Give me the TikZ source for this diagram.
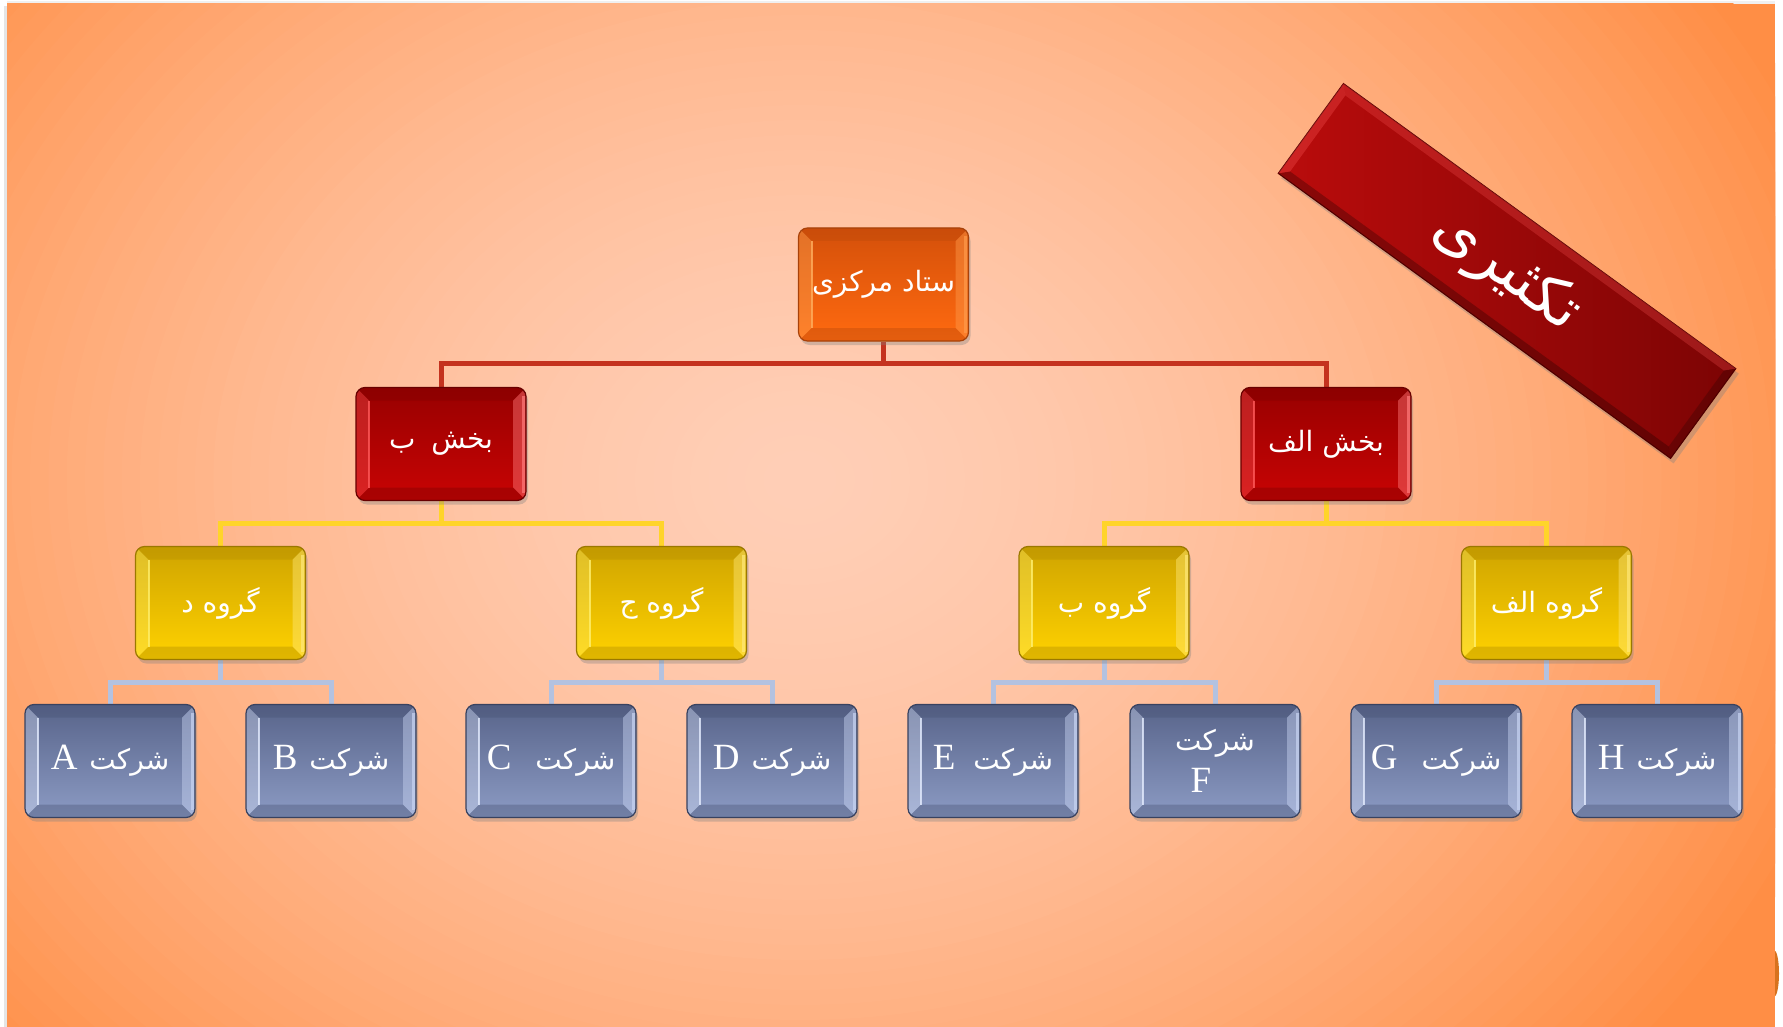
\documentclass[tikz,border=0pt]{standalone}
\usepackage{fontspec}
\setmainfont{Liberation Serif}
\newfontfamily\fa[Script=Arabic]{DejaVu Sans}
\TeXXeTstate=1
\usetikzlibrary{calc,shadows}
\definecolor{bgL}{HTML}{FFCEB6}
\definecolor{bgD}{HTML}{FF8E45}
\definecolor{lnred}{HTML}{C4321E}
\definecolor{lnyel}{HTML}{FFD42A}
\definecolor{lnblu}{HTML}{B4C2E0}
\definecolor{ornT}{HTML}{D4500A}
\definecolor{ornB}{HTML}{FF6A10}
\definecolor{ornE}{HTML}{A8420A}
\definecolor{ornL}{HTML}{FFB060}
\definecolor{ornR}{HTML}{FF9A4A}
\definecolor{redT}{HTML}{980000}
\definecolor{redB}{HTML}{C80404}
\definecolor{redE}{HTML}{680000}
\definecolor{redL}{HTML}{FF5A5A}
\definecolor{redR}{HTML}{FF7A7A}
\definecolor{yelT}{HTML}{CFA400}
\definecolor{yelB}{HTML}{FFD200}
\definecolor{yelE}{HTML}{9A7800}
\definecolor{yelL}{HTML}{FFF070}
\definecolor{yelR}{HTML}{FFE878}
\definecolor{bluT}{HTML}{58648A}
\definecolor{bluB}{HTML}{8C9BC4}
\definecolor{bluE}{HTML}{384260}
\definecolor{bluL}{HTML}{E4ECFF}
\definecolor{bluR}{HTML}{C8D4F2}
\definecolor{banA}{HTML}{BA0C0C}
\definecolor{banB}{HTML}{7C0404}
\definecolor{banE}{HTML}{5A0000}
\definecolor{dotor}{HTML}{D8721E}
\newcommand\latn{\rmfamily\fontsize{37}{40}\selectfont}
\newcommand\comp[2][12pt]{\raisebox{4pt}{{\latn #2}\hspace{#1}\beginR شرکت\endR}}
\newcommand\lift[1]{\raisebox{4pt}{#1}}
\pgfdeclarelayer{bg}
\pgfdeclarelayer{lines}
\pgfsetlayers{bg,lines,main}
\tikzset{
  box/.style={minimum width=170pt, minimum height=113pt, inner sep=0pt,
    rounded corners=9pt, line width=1.2pt, text=white, align=center,
    font=\fa\fontsize{28}{30}\selectfont,
    drop shadow={shadow xshift=2pt, shadow yshift=-4pt, opacity=.35}},
  bev/.style n args={5}{draw=#3, top color=#1, bottom color=#2,
    path picture={
      \path (path picture bounding box.north west) coordinate (pA)
            (path picture bounding box.north east) coordinate (pB)
            (path picture bounding box.south east) coordinate (pC)
            (path picture bounding box.south west) coordinate (pD);
      \path ($(pA)+(13pt,-13pt)$) coordinate (qA) ($(pB)+(-13pt,-13pt)$) coordinate (qB)
            ($(pC)+(-13pt,13pt)$) coordinate (qC) ($(pD)+(13pt,13pt)$) coordinate (qD);
      \fill[sharp corners, #4, opacity=.35] (pA) -- (qA) -- (qD) -- (pD) -- cycle;
      \fill[sharp corners, #5, opacity=.45] (pB) -- (qB) -- (qC) -- (pC) -- cycle;
      \fill[sharp corners, #3, opacity=.22] (pA) -- (pB) -- (qB) -- (qA) -- cycle;
      \fill[sharp corners, #3, opacity=.30] (pD) -- (qD) -- (qC) -- (pC) -- cycle;
      \draw[sharp corners, #4, line width=2pt, opacity=.8] (qA) -- (qD);
      \draw[sharp corners, #5, line width=3pt, opacity=.7] ($(pB)+(-3pt,-8pt)$) -- ($(pC)+(-3pt,8pt)$);
    }},
  hqbox/.style={box, bev={ornT}{ornB}{ornE}{ornL}{ornR}},
  divbox/.style={box, bev={redT}{redB}{redE}{redL}{redR}},
  grpbox/.style={box, bev={yelT}{yelB}{yelE}{yelL}{yelR}},
  cmpbox/.style={box, bev={bluT}{bluB}{bluE}{bluL}{bluR}},
  conn/.style={line width=5pt, line join=miter},
}
\begin{document}
\begin{tikzpicture}[x=1pt,y=-1pt]
\useasboundingbox (0,0) rectangle (1783,1027);
\begin{pgfonlayer}{bg}
\fill[white] (0,0) rectangle (1783,1027);
\fill[black!10] (4,6) rectangle (7,1027);
\fill[black!6] (7,1) rectangle (1775,4);
\begin{scope}
\clip (7,4) rectangle (1775,1027);
\fill[bgD] (7,4) rectangle (1775,1027);
\foreach \i in {60,59,...,1}{
  \pgfmathsetmacro\pp{100*(1-(\i/60)^1.6)}
  \pgfmathsetmacro\rx{1100/60*\i}
  \pgfmathsetmacro\ry{900/60*\i}
  \fill[bgL!\pp!bgD] (800,480) ellipse [x radius=\rx pt, y radius=\ry pt];
}
\end{scope}
\begin{scope}
\clip (1775,940) rectangle (1783,1005);
\fill[dotor] (1774,973.5) ellipse [x radius=5pt, y radius=23.5pt];
\end{scope}
\end{pgfonlayer}

% banner
\begin{scope}[shift={(1507,271)}, rotate=-36]
\node[transform shape, minimum width=485pt, minimum height=111pt, inner sep=0pt,
  draw=banE, line width=1pt, left color=banA, right color=banB, text=white,
  drop shadow={shadow xshift=3pt, shadow yshift=-5pt, opacity=.35},
  font=\fa\fontsize{60}{64}\selectfont] (ban) at (0,0) {\beginR تکثیری\endR};
\fill[redL, opacity=.25] (-242.5,-55.5) -- (242.5,-55.5) -- (234,-47) -- (-234,-47) -- cycle;
\fill[black, opacity=.25] (-242.5,55.5) -- (242.5,55.5) -- (234,47) -- (-234,47) -- cycle;
\fill[redL, opacity=.3] (-242.5,-55.5) -- (-234,-47) -- (-234,47) -- (-242.5,55.5) -- cycle;
\fill[black, opacity=.2] (242.5,-55.5) -- (234,-47) -- (234,47) -- (242.5,55.5) -- cycle;
\end{scope}

% nodes
\node[hqbox] (hq) at (883.5,284.5) {\lift{\beginR ستاد مرکزی\endR}};
\node[divbox] (divB) at (441,444) {\lift{\beginR بخش\hspace{16pt}ب\endR}};
\node[divbox] (divA) at (1326,444) {\lift{\beginR بخش الف\endR}};
\node[grpbox] (grpD) at (220.5,603) {\lift{\beginR گروه د\endR}};
\node[grpbox] (grpJ) at (661.5,603) {\lift{\beginR گروه ج\endR}};
\node[grpbox] (grpB) at (1104,603) {\lift{\beginR گروه ب\endR}};
\node[grpbox] (grpA) at (1546.5,603) {\lift{\beginR گروه الف\endR}};
\node[cmpbox] (cA) at (110,761) {\comp{A}};
\node[cmpbox] (cB) at (331,761) {\comp{B}};
\node[cmpbox] (cC) at (551,761) {\comp[24pt]{C}};
\node[cmpbox] (cD) at (772,761) {\comp{D}};
\node[cmpbox] (cE) at (993,761) {\comp[18pt]{E}};
\node[cmpbox] (cF) at (1215,761) {\beginR شرکت\endR\\[10pt]{\latn F}\hspace*{28pt}};
\node[cmpbox] (cG) at (1436,761) {\comp[24pt]{G}};
\node[cmpbox] (cH) at (1657,761) {\comp{H}};

% connectors
\begin{pgfonlayer}{lines}
\draw[conn, lnred] (hq.south) -- ++(0,22) -| (divB.north);
\draw[conn, lnred] (hq.south) -- ++(0,22) -| (divA.north);
\draw[conn, lnyel] (divB.south) -- ++(0,22) -| (grpD.north);
\draw[conn, lnyel] (divB.south) -- ++(0,22) -| (grpJ.north);
\draw[conn, lnyel] (divA.south) -- ++(0,22) -| (grpB.north);
\draw[conn, lnyel] (divA.south) -- ++(0,22) -| (grpA.north);
\draw[conn, lnblu] (grpD.south) -- ++(0,22) -| (cA.north);
\draw[conn, lnblu] (grpD.south) -- ++(0,22) -| (cB.north);
\draw[conn, lnblu] (grpJ.south) -- ++(0,22) -| (cC.north);
\draw[conn, lnblu] (grpJ.south) -- ++(0,22) -| (cD.north);
\draw[conn, lnblu] (grpB.south) -- ++(0,22) -| (cE.north);
\draw[conn, lnblu] (grpB.south) -- ++(0,22) -| (cF.north);
\draw[conn, lnblu] (grpA.south) -- ++(0,22) -| (cG.north);
\draw[conn, lnblu] (grpA.south) -- ++(0,22) -| (cH.north);
\end{pgfonlayer}
\end{tikzpicture}
\end{document}
